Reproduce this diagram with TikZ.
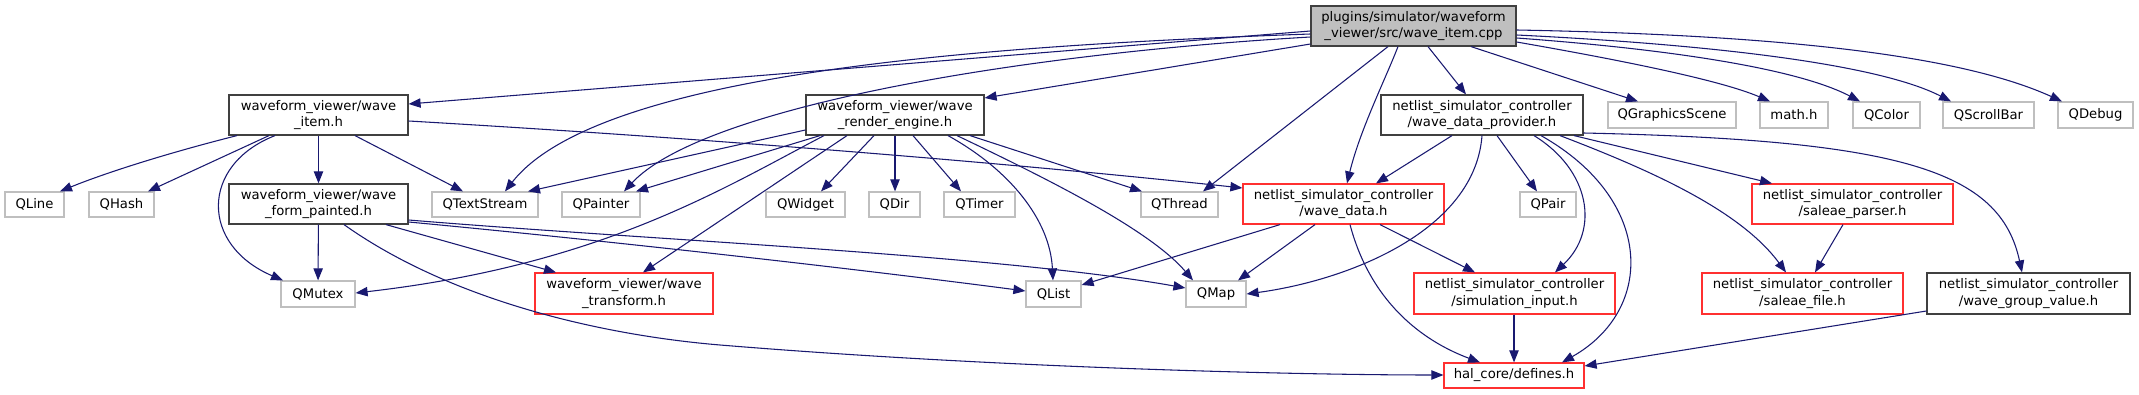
\documentclass[tikz,border=0pt]{standalone}
\usepackage{fontspec}
\setmainfont{DejaVu Sans}
\usetikzlibrary{arrows.meta}
\definecolor{edgeblue}{HTML}{191970}
\definecolor{lgray}{HTML}{BFBFBF}
\definecolor{dgray}{HTML}{404040}
\definecolor{rboxc}{HTML}{FF3030}
\newcommand\mybox[7]{\node[#6, minimum width={(#4-#2)*0.75pt}, minimum height={(#5-#3)*0.75pt}] (#1) at ({(#2+#4)/2},{(#3+#5)/2}) {#7};}
\begin{document}
\begin{tikzpicture}[x=0.75pt,y=-0.75pt,
  basebox/.style={rectangle, inner sep=0pt, align=center, line width=0.9pt, fill=white,
     font=\fontsize{9.9pt}{12.4pt}\selectfont},
  gbox/.style={basebox, draw=lgray},
  bbox/.style={basebox, draw=dgray},
  rbox/.style={basebox, draw=rboxc},
  tbox/.style={basebox, draw=dgray, fill=lgray},
  e/.style={draw=edgeblue, line width=0.8pt, -{Triangle[length=9pt,width=7pt]}, fill=none}]
\useasboundingbox (0,0) rectangle (2139,395);
% nodes
\mybox{T}{1311}{6}{1516}{46}{tbox}{plugins/simulator/waveform\\\_viewer/src/wave\_item.cpp}
\mybox{WI}{229}{95}{408}{135}{bbox}{waveform\_viewer/wave\\\_item.h}
\mybox{WRE}{806}{95}{984}{135}{bbox}{waveform\_viewer/wave\\\_render\_engine.h}
\mybox{WDP}{1381}{95}{1583}{135}{bbox}{netlist\_simulator\_controller\\/wave\_data\_provider.h}
\mybox{QGS}{1608}{102}{1736}{128}{gbox}{QGraphicsScene}
\mybox{MATH}{1760}{102}{1828}{128}{gbox}{math.h}
\mybox{QCOL}{1853}{102}{1920}{128}{gbox}{QColor}
\mybox{QSB}{1943}{102}{2034}{128}{gbox}{QScrollBar}
\mybox{QDBG}{2058}{102}{2133}{128}{gbox}{QDebug}
\mybox{QLine}{5}{192}{64}{217}{gbox}{QLine}
\mybox{QHash}{89}{192}{154}{217}{gbox}{QHash}
\mybox{WFP}{229}{184}{408}{224}{bbox}{waveform\_viewer/wave\\\_form\_painted.h}
\mybox{QTS}{432}{192}{538}{217}{gbox}{QTextStream}
\mybox{QPt}{562}{192}{640}{217}{gbox}{QPainter}
\mybox{QWid}{766}{192}{845}{217}{gbox}{QWidget}
\mybox{QDir}{869}{192}{920}{217}{gbox}{QDir}
\mybox{QTim}{944}{192}{1015}{217}{gbox}{QTimer}
\mybox{QThr}{1141}{192}{1218}{217}{gbox}{QThread}
\mybox{WD}{1243}{184}{1444}{224}{rbox}{netlist\_simulator\_controller\\/wave\_data.h}
\mybox{QPair}{1520}{192}{1576}{217}{gbox}{QPair}
\mybox{SP}{1752}{184}{1953}{224}{rbox}{netlist\_simulator\_controller\\/saleae\_parser.h}
\mybox{QMutex}{281}{281}{355}{307}{gbox}{QMutex}
\mybox{WT}{535}{273}{713}{314}{rbox}{waveform\_viewer/wave\\\_transform.h}
\mybox{QList}{1026}{281}{1081}{307}{gbox}{QList}
\mybox{QMap}{1186}{281}{1246}{307}{gbox}{QMap}
\mybox{SI}{1414}{273}{1615}{314}{rbox}{netlist\_simulator\_controller\\/simulation\_input.h}
\mybox{SF}{1702}{273}{1903}{314}{rbox}{netlist\_simulator\_controller\\/saleae\_file.h}
\mybox{WGV}{1927}{273}{2130}{314}{bbox}{netlist\_simulator\_controller\\/wave\_group\_value.h}
\mybox{DEF}{1444}{363}{1584}{388}{rbox}{hal\_core/defines.h}
% edges from T
\draw[e] (T.west |- 0,31) -- (WI.east |- 0,104);
\draw[e] (T.west |- 0,34) .. controls (1000,45) and (600,70) .. (QTS.north -| 505,0);
\draw[e] (T.west |- 0,37) .. controls (1000,55) and (700,110) .. (QPt.north -| 624,0);
\draw[e] (T.west |- 0,44) -- (WRE.east |- 0,98);
\draw[e] (T.south -| 1388,0) -- (QThr.north -| 1203,0);
\draw[e] (T.south -| 1398,0) .. controls (1385,80) and (1360,130) .. (WD.north -| 1347,0);
\draw[e] (T.south -| 1428,0) -- (WDP.north -| 1466,0);
\draw[e] (T.south -| 1471,0) -- (QGS.north -| 1638,0);
\draw[e] (T.east |- 0,42) .. controls (1620,60) and (1720,80) .. (MATH.north -| 1770,0);
\draw[e] (T.east |- 0,38) .. controls (1680,50) and (1800,70) .. (QCOL.north -| 1860,0);
\draw[e] (T.east |- 0,35) .. controls (1720,45) and (1880,65) .. (QSB.north -| 1951,0);
\draw[e] (T.east |- 0,30) .. controls (1780,35) and (1960,55) .. (QDBG.north -| 2062,0);
% edges from WI
\draw[e] (WI.south -| 237,0) .. controls (160,155) and (100,175) .. (QLine.north -| 60,0);
\draw[e] (WI.south -| 269,0) -- (QHash.north -| 148,0);
\draw[e] (WI.south -| 275,0) .. controls (200,165) and (200,245) .. (QMutex.north -| 283,0);
\draw[e] (WI) -- (WFP);
\draw[e] (WI.south -| 355,0) -- (QTS.north -| 463,0);
\draw[e] (WI.east |- 0,121) .. controls (700,138) and (1000,162) .. (WD.west |- 0,188);
% edges from WFP
\draw[e] (WFP) -- (QMutex);
\draw[e] (WFP.south -| 386,0) -- (WT.north -| 556,0);
\draw[e] (WFP.south -| 344,0) .. controls (450,300) and (600,335) .. (720,345) .. controls (1000,368) and (1300,375) .. (DEF.west |- 0,375);
\draw[e] (WFP.east |- 0,222) .. controls (600,240) and (850,268) .. (QList.west |- 0,291);
\draw[e] (WFP.east |- 0,220) .. controls (650,240) and (1000,255) .. (QMap.west |- 0,288);
% edges from WRE
\draw[e] (WRE.west |- 0,130) -- (QTS.north -| 528,0);
\draw[e] (WRE.south -| 820,0) -- (QPt.north -| 636,0);
\draw[e] (WRE.south -| 824,0) .. controls (720,190) and (600,265) .. (QMutex.east |- 0,293);
\draw[e] (WRE.south -| 847,0) -- (WT.north -| 643,0);
\draw[e] (WRE.south -| 874,0) -- (QWid.north -| 821,0);
\draw[e] (WRE.south -| 895,0) -- (QDir.north -| 895,0);
\draw[e] (WRE.south -| 913,0) -- (QTim.north -| 961,0);
\draw[e] (WRE.south -| 948,0) .. controls (1010,170) and (1050,220) .. (QList.north -| 1053,0);
\draw[e] (WRE.south -| 957,0) .. controls (1050,180) and (1150,230) .. (QMap.north -| 1193,0);
\draw[e] (WRE.south -| 970,0) -- (QThr.north -| 1142,0);
% edges from WD
\draw[e] (WD.south -| 1280,0) -- (QList.east |- 0,285);
\draw[e] (WD.south -| 1315,0) -- (QMap.north -| 1238,0);
\draw[e] (WD.south -| 1350,0) .. controls (1370,300) and (1420,340) .. (DEF.north -| 1480,0);
\draw[e] (WD.south -| 1380,0) -- (SI.north -| 1475,0);
% edges from WDP
\draw[e] (WDP.south -| 1452,0) -- (WD.north -| 1376,0);
\draw[e] (WDP.south -| 1482,0) .. controls (1475,230) and (1350,280) .. (QMap.east |- 0,294);
\draw[e] (WDP.south -| 1497,0) -- (QPair.north -| 1537,0);
\draw[e] (WDP.south -| 1534,0) .. controls (1590,170) and (1600,230) .. (SI.north -| 1555,0);
\draw[e] (WDP.south -| 1541,0) .. controls (1655,200) and (1655,310) .. (DEF.north -| 1562,0);
\draw[e] (WDP.south -| 1560,0) .. controls (1650,170) and (1740,210) .. (SF.north -| 1786,0);
\draw[e] (WDP.south -| 1574,0) -- (SP.north -| 1772,0);
\draw[e] (WDP.east |- 0,133) .. controls (1900,140) and (2000,170) .. (WGV.north -| 2022,0);
% others
\draw[e] (SP.south -| 1843,0) -- (SF.north -| 1815,0);
\draw[e] (SI.south -| 1514,0) -- (DEF.north -| 1514,0);
\draw[e] (WGV.west |- 0,311) -- (DEF.east |- 0,366);
\end{tikzpicture}
\end{document}
